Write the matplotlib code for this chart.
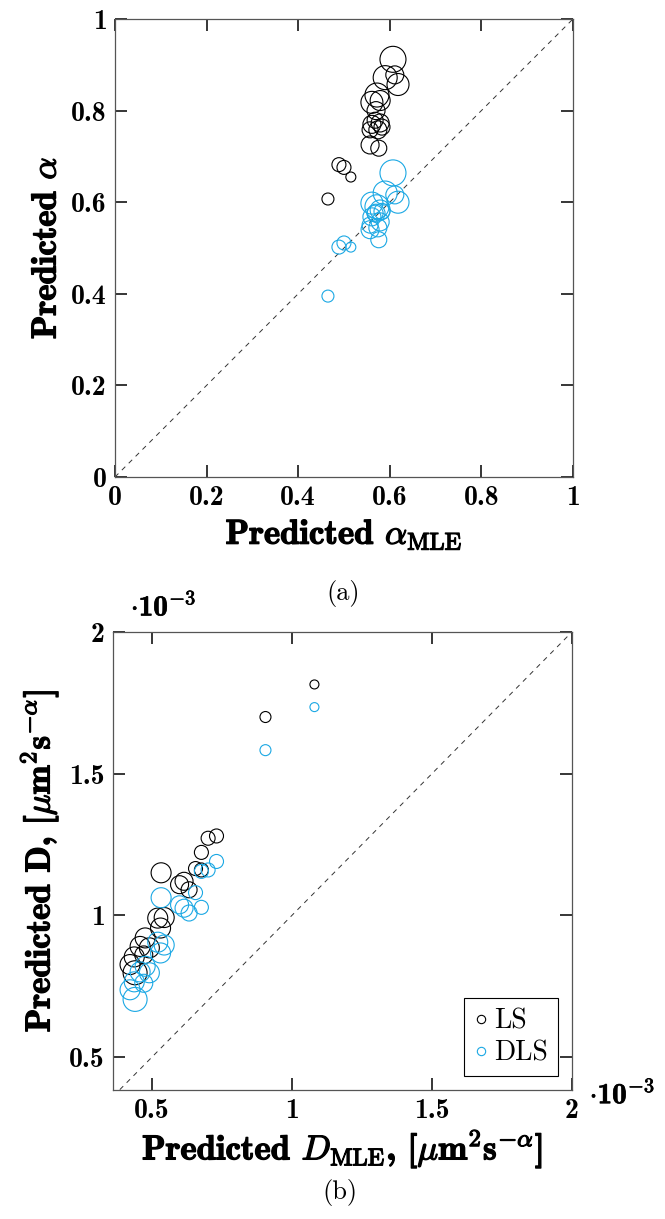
import numpy as np
import matplotlib
matplotlib.use("Agg")
import matplotlib.pyplot as plt
import matplotlib.patheffects as pe

# (a) predicted anomalous exponent alpha vs MLE estimate
alpha_mle = [0.465, 0.489, 0.500, 0.515, 0.607, 0.590, 0.611, 0.618, 0.572, 0.561,
             0.579, 0.570, 0.561, 0.568, 0.579, 0.557, 0.574, 0.583, 0.557, 0.576]
alpha_ls = [0.607, 0.682, 0.676, 0.655, 0.912, 0.872, 0.878, 0.857, 0.834, 0.818,
            0.822, 0.800, 0.770, 0.779, 0.773, 0.758, 0.758, 0.764, 0.725, 0.718]
alpha_dls = [0.395, 0.502, 0.511, 0.502, 0.664, 0.620, 0.616, 0.600, 0.590, 0.598,
             0.583, 0.576, 0.568, 0.576, 0.557, 0.550, 0.544, 0.580, 0.540, 0.518]
radius_a = [6, 7, 7, 5, 13, 12, 9, 11, 12, 11, 10, 9, 9, 8, 9, 8, 9, 8, 9, 8]

# (b) predicted diffusion coefficient D vs MLE estimate (units 1e-3)
d_mle = [1.08, 0.905, 0.730, 0.700, 0.676, 0.532, 0.655, 0.676, 0.598, 0.614, 0.632,
         0.520, 0.543, 0.530, 0.475, 0.457, 0.490, 0.436, 0.421, 0.439, 0.470]
d_ls = [1.815, 1.700, 1.280, 1.272, 1.222, 1.150, 1.165, 1.160, 1.108, 1.120, 1.090,
        0.990, 0.992, 0.955, 0.920, 0.890, 0.885, 0.853, 0.826, 0.797, 0.860]
d_dls = [1.735, 1.583, 1.190, 1.160, 1.155, 1.062, 1.080, 1.028, 1.037, 1.025, 1.008,
         0.905, 0.895, 0.867, 0.820, 0.800, 0.797, 0.765, 0.737, 0.703, 0.760]
radius_b = [4.5, 5.5, 7, 7, 7, 10, 7, 7, 9, 9, 8, 10, 10, 10, 10, 10, 10, 10, 10, 12, 9]

a_ticks = [0, 0.2, 0.4, 0.6, 0.8, 1]
a_ticklabels = ["0", "0.2", "0.4", "0.6", "0.8", "1"]
d_ticks = [0.5, 1, 1.5, 2]
d_ticklabels = ["0.5", "1", "1.5", "2"]

BLUE = "#1ba8e4"
bold = [pe.withStroke(linewidth=0.9, foreground="black")]
thin = [pe.withStroke(linewidth=0.5, foreground="black")]

plt.rcParams.update({"mathtext.fontset": "cm", "font.family": "cmr10",
                     "axes.unicode_minus": False})


def s_of(r):
    return (2 * np.asarray(r) * 0.72) ** 2


def style(ax, ticks, labels, lim):
    ax.set_xlim(*lim[0])
    ax.set_ylim(*lim[1])
    ax.set_xticks(ticks)
    ax.set_yticks(ticks)
    ax.set_xticklabels(labels, fontfamily="cmb10", fontsize=20)
    ax.set_yticklabels(labels, fontfamily="cmb10", fontsize=20)
    ax.tick_params(direction="in", length=8.5, width=1.1, top=True, right=True,
                   color="black", pad=6)
    for sp in ax.spines.values():
        sp.set_color("#555555")
        sp.set_linewidth(0.9)


fig = plt.figure(figsize=(6.65, 12.19), dpi=100)

ax1 = fig.add_axes([0.1729, 0.6087, 0.6887, 0.3757])
ax1.plot([0, 1], [0, 1], ls=(0, (5, 5)), color="#333333", lw=0.7, zorder=1)
ax1.scatter(alpha_mle, alpha_ls, s=s_of(radius_a), facecolors="none",
            edgecolors="black", linewidths=0.8, zorder=2)
ax1.scatter(alpha_mle, alpha_dls, s=s_of(radius_a), facecolors="none",
            edgecolors=BLUE, linewidths=0.8, zorder=2)
style(ax1, a_ticks, a_ticklabels, [(0, 1), (0, 1)])
ax1.set_xlabel(r"Predicted $\alpha_{\rm MLE}$", fontfamily="cmb10", fontsize=25,
               labelpad=4, path_effects=bold)
ax1.set_ylabel(r"Predicted $\alpha$", fontfamily="cmb10", fontsize=25,
               labelpad=6, path_effects=bold)
fig.text(0.516, 0.513, "(a)", fontsize=19, ha="center", va="center")

ax2 = fig.add_axes([0.1699, 0.1058, 0.690, 0.3757])
lim_b = [(0.36, 2.0), (0.383, 2.0)]
ax2.plot([0.36, 2.0], [0.36, 2.0], ls=(0, (5, 5)), color="#333333", lw=0.7, zorder=1)
ax2.scatter(d_mle, d_ls, s=s_of(radius_b), facecolors="none",
            edgecolors="black", linewidths=0.8, zorder=2)
ax2.scatter(d_mle, d_dls, s=s_of(radius_b), facecolors="none",
            edgecolors=BLUE, linewidths=0.8, zorder=2)
style(ax2, d_ticks, d_ticklabels, lim_b)
ax2.set_xlabel(r"Predicted $D_{\rm MLE}$, [$\mu$m$^{\mathbf{2}}$s$^{-\alpha}$]",
               fontfamily="cmb10", fontsize=25, labelpad=2, path_effects=bold)
ax2.set_ylabel(r"Predicted D, [$\mu$m$^{\mathbf{2}}$s$^{-\alpha}$]",
               fontfamily="cmb10", fontsize=25, labelpad=6, path_effects=bold)
offset = r"$\cdot$10$^{-3}$"
ax2.text(0.11, 1.055, offset, transform=ax2.transAxes, fontfamily="cmb10",
         fontsize=21, ha="center", va="center", path_effects=thin)
ax2.text(1.11, -0.01, offset, transform=ax2.transAxes, fontfamily="cmb10",
         fontsize=21, ha="center", va="center", path_effects=thin)

h_ls = plt.Line2D([], [], ls="none", marker="o", mfc="none", mec="black", ms=6, mew=0.8)
h_dls = plt.Line2D([], [], ls="none", marker="o", mfc="none", mec=BLUE, ms=6, mew=0.8)
leg = ax2.legend([h_ls, h_dls], ["LS", "DLS"], loc="lower right", fontsize=20,
                 frameon=True, fancybox=False, framealpha=1, edgecolor="black",
                 borderaxespad=0.5, handlelength=0.5, handletextpad=0.25,
                 borderpad=0.35, labelspacing=0.2)
leg.get_frame().set_linewidth(0.8)
fig.text(0.511, 0.022, "(b)", fontsize=19, ha="center", va="center")

fig.savefig("out.png", dpi=100)
